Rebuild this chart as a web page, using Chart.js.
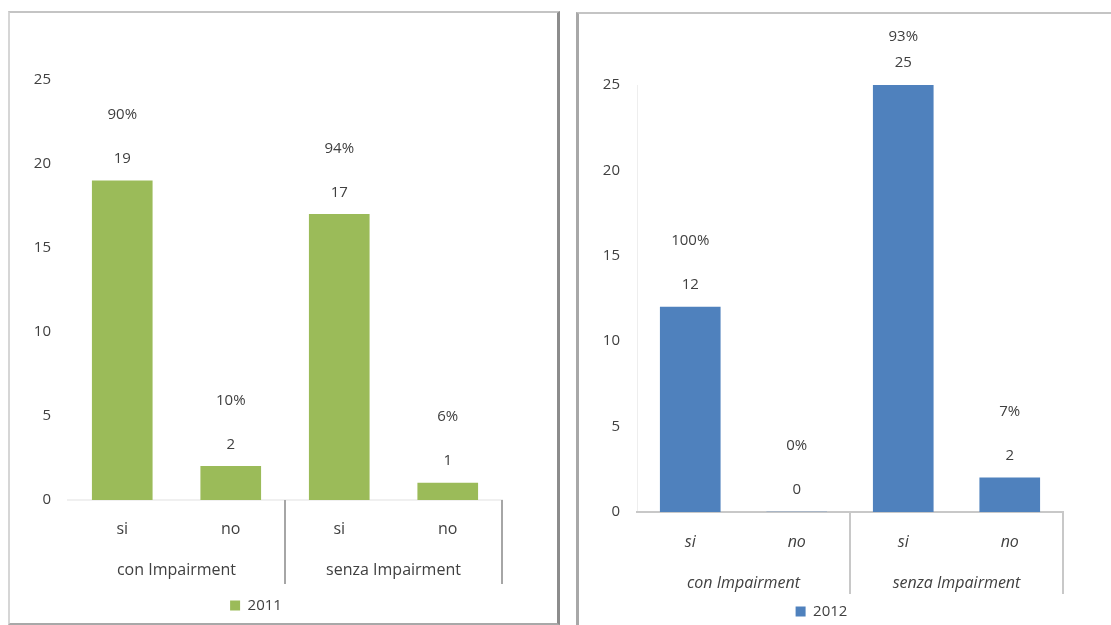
<!DOCTYPE html>
<html>
<head>
<meta charset="utf-8">
<script src="https://cdn.jsdelivr.net/npm/chart.js@4.4.0/dist/chart.umd.min.js"></script>
<style>
  html, body { margin: 0; padding: 0; background: #fff; }
  body { width: 1111px; height: 625px; position: relative; overflow: hidden; }
  .panel { position: absolute; box-sizing: border-box; }
  #p1 { left: 8px; top: 11px; width: 552px; height: 614px;
        border-left: 2px solid #d6d6d6; border-top: 2px solid #c4c4c4;
        border-right: 3px solid #8c8c8c; border-bottom: 2px solid #a8a8a8; }
  #p2 { left: 576px; top: 12px; width: 540px; height: 620px;
        border-left: 3px solid #a8a8a8; border-top: 2px solid #c4c4c4; }
  .wrap { position: absolute; }
  #w1 { left: 10px; top: 13px; width: 546px; height: 610px; }
  #w2 { left: 580px; top: 19px; width: 531px; height: 610px; }
</style>
</head>
<body>
<div class="panel" id="p1"></div>
<div class="panel" id="p2"></div>
<div class="wrap" id="w1"><canvas id="c1"></canvas></div>
<div class="wrap" id="w2"><canvas id="c2"></canvas></div>
<script>
// categories
var answers = ['si', 'no', 'si', 'no'];
var groups = ['con Impairment', 'senza Impairment'];
var yTicks = [0, 5, 10, 15, 20, 25];

// 2011
var values2011 = [19, 2, 17, 1];
var pct2011 = ['90%', '10%', '94%', '6%'];
// 2012
var values2012 = [12, 0, 25, 2];
var pct2012 = ['100%', '0%', '93%', '7%'];

var textColor = '#404040';
var fontFamily = "'Open Sans', 'Liberation Sans', sans-serif";

// value + percentage above each bar
var barLabels = {
  id: 'barLabels',
  afterDatasetsDraw: function(chart, args, opts) {
    var ctx = chart.ctx;
    var meta = chart.getDatasetMeta(0);
    var ds = chart.data.datasets[0];
    ctx.save();
    ctx.fillStyle = textColor;
    ctx.font = '15px ' + fontFamily;
    ctx.textAlign = 'center';
    ctx.textBaseline = 'middle';
    meta.data.forEach(function(bar, i) {
      ctx.fillText(String(ds.data[i]), bar.x, bar.y - 22);
      // keep the percentage inside the frame
      ctx.fillText(opts.pct[i], bar.x, Math.max(bar.y - 66, opts.minY));
    });
    ctx.restore();
  }
};

// vertical separators between the two groups under the axis
var groupLines = {
  id: 'groupLines',
  afterDraw: function(chart, args, opts) {
    var x = chart.scales.x, x2 = chart.scales.x2;
    var ctx = chart.ctx;
    var half = (x.getPixelForValue(1) + x.getPixelForValue(2)) / 2;
    var step = x.getPixelForValue(1) - x.getPixelForValue(0);
    var xs = [half, x.getPixelForValue(3) + step / 2];
    ctx.save();
    ctx.strokeStyle = opts.color;
    ctx.lineWidth = 2;
    xs.forEach(function(px) {
      ctx.beginPath();
      ctx.moveTo(Math.round(px), x.top);
      ctx.lineTo(Math.round(px), x2.bottom - opts.cut);
      ctx.stroke();
    });
    ctx.restore();
  }
};

function makeChart(id, values, pct, year, color, opt) {
  var ctx = document.getElementById(id);
  return new Chart(ctx, {
    type: 'bar',
    data: {
      labels: answers,
      datasets: [{
        label: year,
        data: values,
        backgroundColor: color,
        borderWidth: 0,
        barThickness: 60
      }]
    },
    options: {
      responsive: true,
      maintainAspectRatio: false,
      animation: false,
      events: [],
      layout: { padding: { left: 0, right: opt.right, top: opt.top, bottom: 0 } },
      plugins: {
        tooltip: { enabled: false },
        legend: {
          position: 'bottom',
          labels: {
            boxWidth: 10, boxHeight: 10, padding: 10,
            color: textColor,
            font: { family: fontFamily, size: 15 }
          }
        },
        barLabels: { pct: pct, minY: opt.minY },
        groupLines: { color: opt.sepColor, cut: opt.cut }
      },
      scales: {
        y: {
          min: 0, max: 25,
          afterBuildTicks: function(s) { s.ticks = yTicks.map(function(v) { return { value: v }; }); },
          afterFit: function(s) { s.width = opt.yw; },
          grid: { display: false, drawTicks: false },
          border: { display: opt.yAxisLine, color: '#eeeeee' },
          ticks: { color: textColor, padding: 17, font: { family: fontFamily, size: 15 } }
        },
        x: {
          afterFit: function(s) { s.height = opt.xh; },
          grid: { display: false, drawTicks: false },
          border: { display: true, color: opt.axisColor, width: 2 },
          ticks: { color: textColor, padding: opt.xpad,
                   font: { family: fontFamily, size: 16, style: opt.italic ? 'italic' : 'normal' } }
        },
        x2: {
          type: 'category',
          position: 'bottom',
          labels: groups,
          offset: true,
          afterFit: function(s) { s.height = opt.x2h; },
          grid: { display: false, drawTicks: false },
          border: { display: false },
          ticks: { color: textColor, padding: opt.x2pad,
                   font: { family: fontFamily, size: 16, style: opt.italic ? 'italic' : 'normal' } }
        }
      }
    },
    plugins: [barLabels, groupLines]
  });
}

makeChart('c1', values2011, pct2011, '2011', '#9BBB59', {
  right: 54, top: 67, yw: 58, xh: 46, x2h: 42, xpad: 20, x2pad: 15, minY: 0,
  italic: false, yAxisLine: false, axisColor: '#f0f0f0', sepColor: '#a6a6a6', cut: 4
});
makeChart('c2', values2012, pct2012, '2012', '#4F81BD', {
  right: 48, top: 66, yw: 57, xh: 44, x2h: 38, xpad: 21, x2pad: 18, minY: 18,
  italic: true, yAxisLine: true, axisColor: '#c8c8c8', sepColor: '#c8c8c8', cut: 0
});
</script>
</body>
</html>
